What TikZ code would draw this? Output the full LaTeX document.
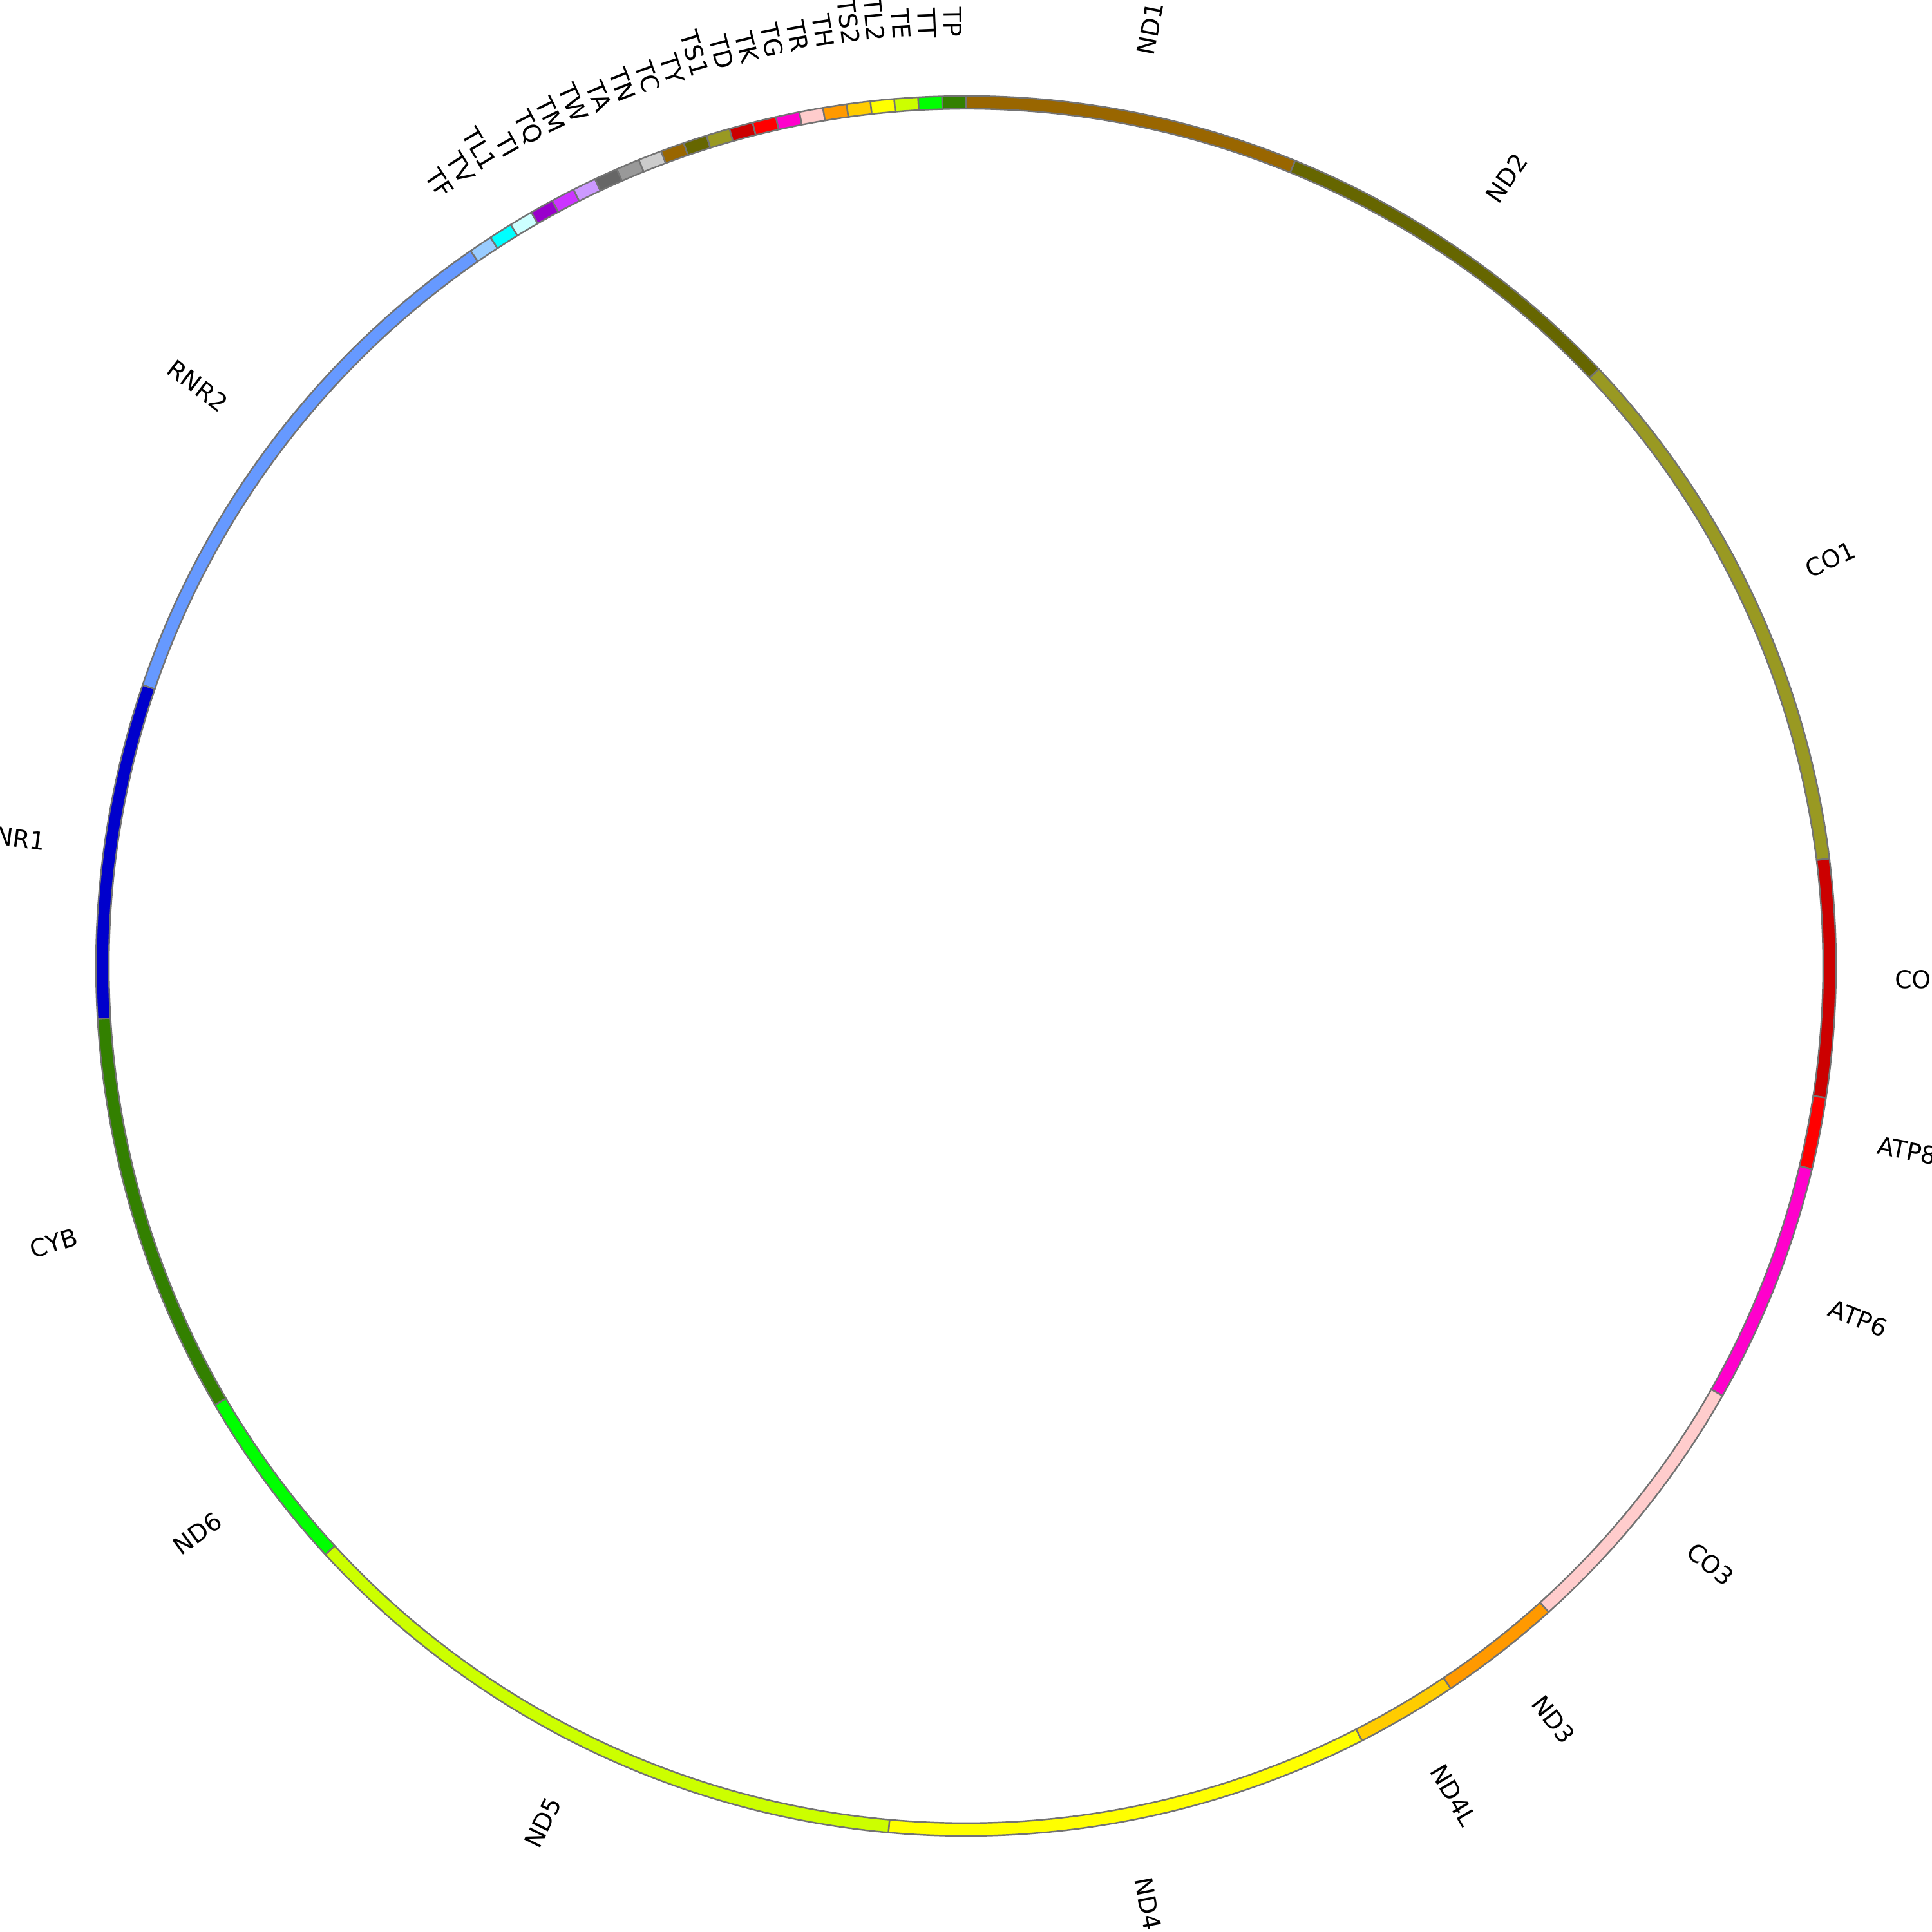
\documentclass[tikz,border=0pt]{standalone}
\usepackage{fontspec}
\newfontfamily\lblfont{DejaVu Sans}
\definecolor{ringgray}{HTML}{737373}
% gene colours
\definecolor{cND1}{HTML}{996600}
\definecolor{cND2}{HTML}{666600}
\definecolor{cCO1}{HTML}{999922}
\definecolor{cCO2}{HTML}{CC0000}
\definecolor{cATP8}{HTML}{FF0000}
\definecolor{cATP6}{HTML}{FF00CC}
\definecolor{cCO3}{HTML}{FFCCCC}
\definecolor{cND3}{HTML}{FF9900}
\definecolor{cND4L}{HTML}{FFCC00}
\definecolor{cND4}{HTML}{FFFF00}
\definecolor{cND5}{HTML}{CCFF00}
\definecolor{cND6}{HTML}{00FF00}
\definecolor{cCYB}{HTML}{338000}
\definecolor{cRNR1}{HTML}{0000CC}
\definecolor{cRNR2}{HTML}{6699FF}
% tRNA colours
\definecolor{cTF}{HTML}{99CCFF}
\definecolor{cTV}{HTML}{00FFFF}
\definecolor{cTL1}{HTML}{CCFFFF}
\definecolor{cTI}{HTML}{9900CC}
\definecolor{cTQ}{HTML}{CC33FF}
\definecolor{cTM}{HTML}{CC99FF}
\definecolor{cTW}{HTML}{666666}
\definecolor{cTA}{HTML}{999999}
\definecolor{cTN}{HTML}{CCCCCC}
\definecolor{cTC}{HTML}{996600}
\definecolor{cTY}{HTML}{666600}
\definecolor{cTS1}{HTML}{999922}
\definecolor{cTD}{HTML}{CC0000}
\definecolor{cTK}{HTML}{FF0000}
\definecolor{cTG}{HTML}{FF00CC}
\definecolor{cTR}{HTML}{FFCCCC}
\definecolor{cTH}{HTML}{FF9900}
\definecolor{cTS2}{HTML}{FFCC00}
\definecolor{cTL2}{HTML}{FFFF00}
\definecolor{cTE}{HTML}{CCFF00}
\definecolor{cTT}{HTML}{00FF00}
\definecolor{cTP}{HTML}{338000}
\tikzset{
  segment/.style={draw=ringgray, line width=0.7pt, line join=round},
  lbl/.style={font=\lblfont\fontsize{10.8}{12.5}\selectfont, inner sep=0pt, text=black}
}
% #1 start angle, #2 end angle, #3 label (also colour suffix and node name)
\newcommand\genseg[3]{%
  \filldraw[segment, fill=c#3] (#1:13.31) arc[start angle=#1, end angle=#2, radius=13.31]
    -- (#2:13.51) arc[start angle=#2, end angle=#1, radius=13.51] -- cycle;
  \pgfmathsetmacro\midang{(#1+#2)/2}%
  \pgfmathtruncatemacro\rside{cos(\midang)>=0 ? 1 : 0}%
  \ifnum\rside=1
    \node[lbl, anchor=west, rotate=\midang] (L#3) at (\midang:14.42) {#3};
  \else
    \pgfmathsetmacro\rotang{\midang+180}%
    \node[lbl, anchor=east, rotate=\rotang] (L#3) at (\midang:14.42) {#3};
  \fi
}
\begin{document}
\begin{tikzpicture}
\path[use as bounding box] (0,0) rectangle (30,30);
\clip (0,0) rectangle (30,30);
\begin{scope}[shift={(15,15)}]
\genseg{90}{67.77}{ND1}
\genseg{67.77}{43.33}{ND2}
\genseg{43.33}{7.09}{CO1}
\genseg{7.09}{-8.72}{CO2}
\genseg{-8.72}{-13.5}{ATP8}
\genseg{-13.5}{-29.6}{ATP6}
\genseg{-29.6}{-47.96}{CO3}
\genseg{-47.96}{-56.15}{ND3}
\genseg{-56.15}{-62.93}{ND4L}
\genseg{-62.93}{-95.12}{ND4}
\genseg{-95.12}{-137.43}{ND5}
\genseg{-137.43}{-149.7}{ND6}
\genseg{-149.7}{-176.5}{CYB}
\genseg{-176.5}{-198.85}{RNR1}
\genseg{-198.85}{-235.29}{RNR2}
\foreach \lab [count=\i from 0] in {TF,TV,TL1,TI,TQ,TM,TW,TA,TN,TC,TY,TS1,TD,TK,TG,TR,TH,TS2,TL2,TE,TT,TP}{
  \pgfmathsetmacro\aA{-235.29-1.5777*\i}
  \pgfmathsetmacro\aB{-235.29-1.5777*(\i+1)}
  \genseg{\aA}{\aB}{\lab}
}
\end{scope}
\end{tikzpicture}
\end{document}
